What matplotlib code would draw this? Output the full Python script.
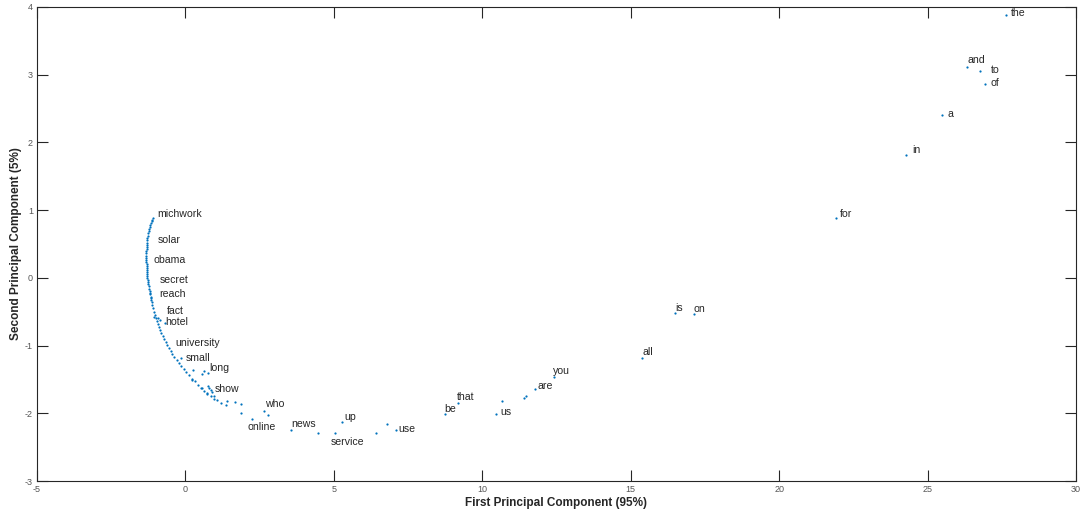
import matplotlib
matplotlib.use("Agg")
import matplotlib.pyplot as plt

plt.rcParams['font.family'] = ['Liberation Sans', 'DejaVu Sans']
plt.rcParams['axes.unicode_minus'] = False

# word embedding PCA projections (first, second component)
pc1 = [-1.10, -1.12, -1.14, -1.16, -1.18, -1.20, -1.22, -1.24, -1.26, -1.27, -1.28, -1.29,
       -1.30, -1.30, -1.31, -1.31, -1.32, -1.32, -1.32, -1.32, -1.32, -1.32, -1.31, -1.31,
       -1.31, -1.30, -1.30, -1.29, -1.29, -1.28, -1.27, -1.26, -1.25, -1.24, -1.22, -1.21,
       -1.19, -1.17, -1.15, -1.13, -1.11, -1.08, -1.06, -1.03, -1.00, -0.97, -0.94, -0.90,
       -0.86, -0.82, -0.77, -0.72, -0.67, -0.62, -0.56, -0.50, -0.44, -0.37, -0.30, -0.22,
       -0.14, -0.06, 0.03, 0.12, 0.22, 0.32, 0.42, 0.52, 0.63, 0.74, 0.85, 0.96,
       -1.05, -0.93, -0.70, -0.85, -0.15, 0.25, 0.55, 0.75, 0.62, 0.85, 0.78, 0.72, 0.90,
       -1.15, -1.18, 0.23, 0.56, 0.75, 0.95,
       1.07, 1.21, 1.35, 1.40, 1.68, 1.88, 1.88, 2.25, 2.66, 2.78,
       3.54, 4.47, 5.03, 5.28, 6.43, 6.79, 7.11, 8.73, 9.19, 10.46, 10.67, 11.39, 11.47,
       11.76, 12.40, 15.38, 16.48, 17.12, 21.93, 24.29, 25.49, 26.33, 26.78, 26.92, 27.64]
pc2 = [0.88, 0.86, 0.84, 0.81, 0.78, 0.75, 0.72, 0.69, 0.66, 0.62, 0.59, 0.56,
       0.52, 0.49, 0.46, 0.42, 0.39, 0.36, 0.33, 0.30, 0.27, 0.24, 0.21, 0.18,
       0.15, 0.12, 0.09, 0.06, 0.03, 0.00, -0.03, -0.06, -0.09, -0.12, -0.16, -0.20,
       -0.24, -0.28, -0.32, -0.36, -0.40, -0.45, -0.50, -0.55, -0.59, -0.63, -0.68, -0.72,
       -0.77, -0.81, -0.86, -0.90, -0.95, -0.99, -1.03, -1.08, -1.12, -1.17, -1.21, -1.26,
       -1.30, -1.35, -1.39, -1.44, -1.49, -1.53, -1.58, -1.62, -1.67, -1.71, -1.75, -1.79,
       -0.58, -0.60, -0.66, -0.62, -1.18, -1.36, -1.42, -1.40, -1.38, -1.65, -1.62, -1.70, -1.68,
       -0.30, -0.22, -1.51, -1.63, -1.60, -1.75,
       -1.80, -1.85, -1.88, -1.82, -1.84, -1.87, -2.00, -2.09, -1.96, -2.03,
       -2.25, -2.29, -2.29, -2.13, -2.29, -2.16, -2.24, -2.01, -1.85, -2.01, -1.82, -1.78, -1.75,
       -1.64, -1.47, -1.18, -0.52, -0.53, 0.89, 1.82, 2.40, 3.12, 3.06, 2.87, 3.88]

# word labels and their text anchor positions
words = ["michwork", "solar", "obama", "secret", "reach", "fact", "hotel", "university",
         "small", "long", "show", "who", "online", "news", "up", "service", "use", "be",
         "that", "us", "are", "you", "all", "is", "on", "for", "in", "a", "of", "to",
         "and", "the"]
word_x = [-0.94, -0.94, -1.08, -0.88, -0.88, -0.61, -0.67, -0.34, 0.00, 0.81, 0.98,
          2.69, 2.09, 3.57, 5.36, 4.88, 7.17, 8.72, 9.16, 10.61, 11.86, 12.39, 15.39,
          16.50, 17.11, 22.06, 24.49, 25.66, 27.11, 27.14, 26.34, 27.82]
word_y = [0.945, 0.56, 0.27, -0.03, -0.24, -0.49, -0.65, -0.96, -1.18, -1.33, -1.64,
          -1.86, -2.20, -2.16, -2.05, -2.42, -2.23, -1.93, -1.76, -1.98, -1.60, -1.37,
          -1.09, -0.44, -0.46, 0.945, 1.89, 2.42, 2.88, 3.07, 3.22, 3.91]

x_ticks = [-5, 0, 5, 10, 15, 20, 25, 30]
y_ticks = [-3, -2, -1, 0, 1, 2, 3, 4]

fig = plt.figure(figsize=(10.85, 5.14), dpi=100)
ax = fig.add_axes([0.0341, 0.0642, 0.9576, 0.9222])

ax.plot(pc1, pc2, linestyle='none', marker='.', markersize=3.2,
        color='#0072BD', markeredgewidth=0)

for w, tx, ty in zip(words, word_x, word_y):
    ax.text(tx, ty, w, fontsize=7.6, color='#262626', ha='left', va='center')

ax.set_xlim(-5, 30)
ax.set_ylim(-3, 4)
ax.set_xticks(x_ticks)
ax.set_yticks(y_ticks)
ax.tick_params(direction='in', length=8, width=0.8, colors='#262626',
               labelsize=6.5, labelcolor='#555555', top=True, right=True,
               pad=3)
for s in ax.spines.values():
    s.set_color('#262626')
    s.set_linewidth(0.8)

ax.set_xlabel('First Principal Component (95%)', fontsize=8.5,
              fontweight='bold', color='#262626', labelpad=2)
ax.set_ylabel('Second Principal Component (5%)', fontsize=8.5,
              fontweight='bold', color='#262626', labelpad=2)

fig.savefig('out.png', dpi=100)
